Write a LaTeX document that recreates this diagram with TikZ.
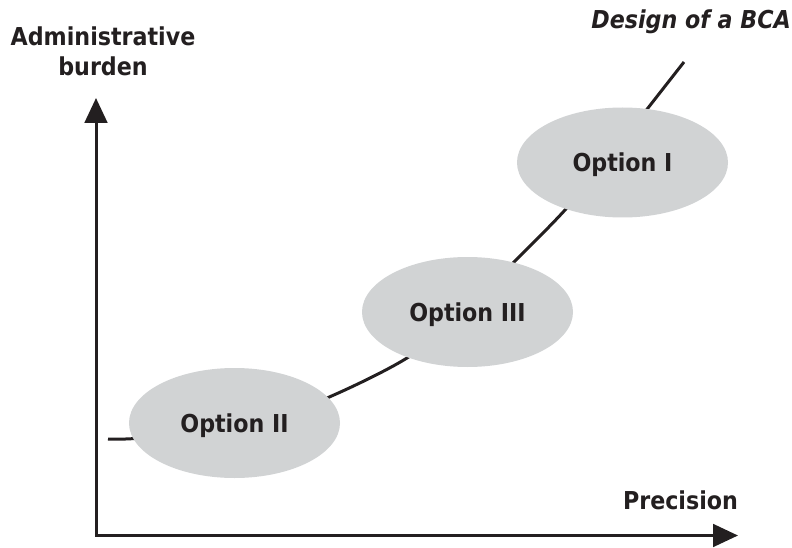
\documentclass[tikz,border=0pt]{standalone}
\usepackage{fontspec}
\setmainfont{DejaVu Sans Condensed}
\usetikzlibrary{arrows.meta,shapes.geometric}
\definecolor{ink}{RGB}{35,31,32}
\definecolor{blob}{RGB}{209,211,212}
\begin{document}
\begin{tikzpicture}[x=0.75pt,y=0.75pt,
  lbl/.style={font=\fontsize{18.5}{22.5}\selectfont\bfseries, text=ink, inner sep=0pt},
  optbox/.style={ellipse, fill=blob, minimum width=158.25pt, minimum height=82.5pt,
    inner sep=0pt, text depth=0pt, font=\fontsize{18.5}{22.5}\selectfont\bfseries, text=ink},
  axisline/.style={draw=ink, line width=2.25pt, line join=miter,
    {Triangle[length=18.75pt,width=17pt]}-{Triangle[length=18.75pt,width=17pt]}},
  trend/.style={draw=ink, line width=2.25pt, line cap=butt}]
\useasboundingbox (0,0) rectangle (792,547);

% axes
\coordinate (ytip) at (96,449);
\coordinate (origin) at (96,11.5);
\coordinate (xtip) at (738,11.5);
\draw[axisline] (ytip) -- (origin) -- (xtip);

% trend curve
\draw[trend] plot[smooth, tension=0.55] coordinates {
  (108,108) (135,108.5) (200,115) (265,128) (327,149) (407,189)
  (460,232) (515,286) (565,337) (610,390) (648,439) (684,485)};

% options
\node[optbox] (opt2) at (234.5,124) {Option II};
\node[optbox] (opt3) at (467.5,235) {Option III};
\node[optbox] (opt1) at (622.5,384.5) {Option I};

% labels
\node[lbl, align=center, anchor=base] (ylab) at (103,471) {Administrative\\burden};
\node[lbl, anchor=base] (xlab) at (680.5,38) {Precision};
\node[lbl, anchor=base east, font=\fontsize{18.5}{22.5}\selectfont\bfseries\itshape] (title) at (791,518) {Design of a BCA};
\end{tikzpicture}
\end{document}
